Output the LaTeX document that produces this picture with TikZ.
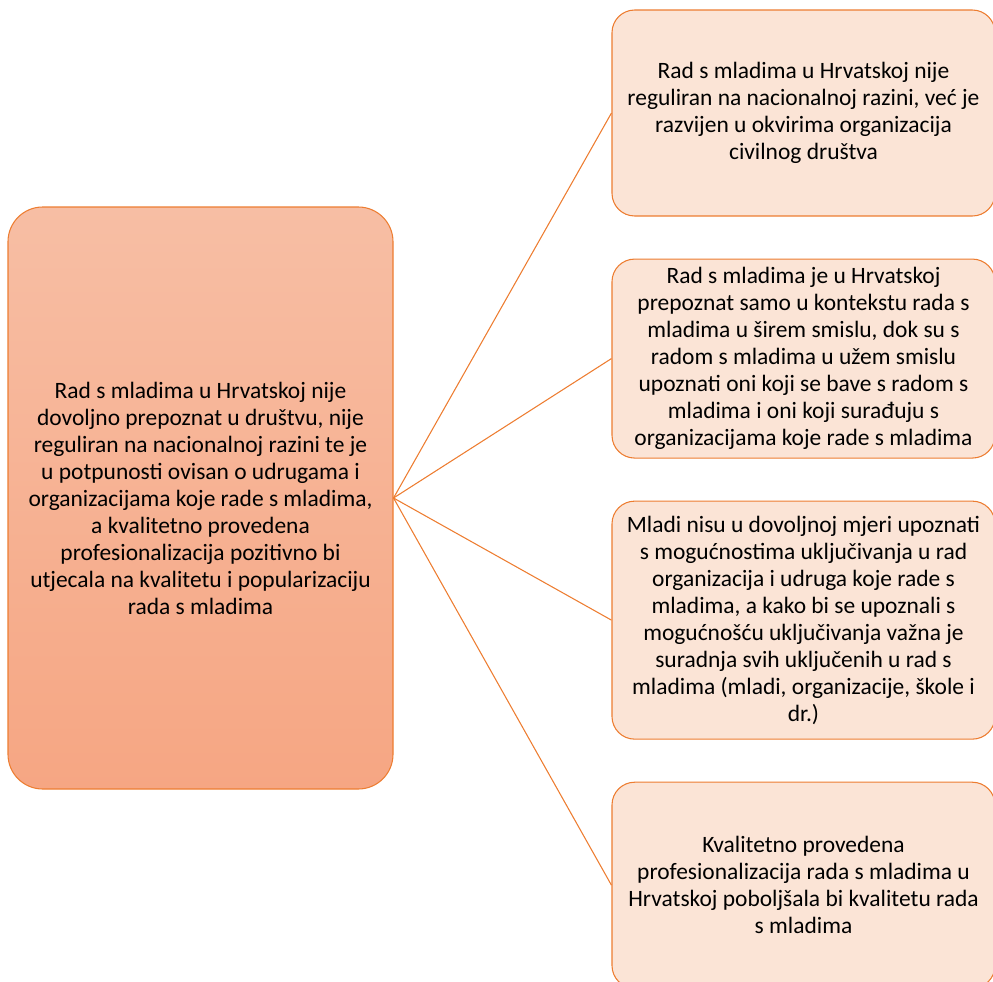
\documentclass[tikz,border=0pt]{standalone}
\usepackage{fontspec}
\setmainfont{Carlito}
\usetikzlibrary{positioning}

\definecolor{accent}{RGB}{237,125,49}
\definecolor{hubtop}{RGB}{247,190,164}
\definecolor{hubbot}{RGB}{246,166,131}
\definecolor{leaffill}{RGB}{251,228,214}

\tikzset{
  hub/.style={draw=accent, line width=0.8pt, rounded corners=26pt,
    top color=hubtop, bottom color=hubbot, align=center, inner sep=4pt,
    minimum width=288.75pt, minimum height=436.5pt},
  leaf/.style={draw=accent, line width=0.8pt, rounded corners=17pt,
    fill=leaffill, align=center, inner sep=4pt, minimum width=287.25pt},
  link/.style={draw=accent, line width=0.8pt},
}

\begin{document}
\begin{tikzpicture}[x=0.75pt, y=-0.75pt,
  every node/.style={font=\fontsize{17.6}{20.25}\selectfont}]
  \useasboundingbox (0,0) rectangle (993,982);

  \node [hub] (H) at (200.5,498) {Rad s mladima u Hrvatskoj nije\\
    dovoljno prepoznat u društvu, nije\\
    reguliran na nacionalnoj razini te je\\
    u potpunosti ovisan o udrugama i\\
    organizacijama koje rade s mladima,\\
    a kvalitetno provedena\\
    profesionalizacija pozitivno bi\\
    utjecala na kvalitetu i popularizaciju\\
    rada s mladima};

  \node [leaf, minimum height=154.5pt] (R1) at (803.5,113) {Rad s mladima u Hrvatskoj nije\\
    reguliran na nacionalnoj razini, već je\\
    razvijen u okvirima organizacija\\
    civilnog društva};
  \node [leaf, minimum height=149.25pt, below=31.5pt of R1] (R2) {Rad s mladima je u Hrvatskoj\\
    prepoznat samo u kontekstu rada s\\
    mladima u širem smislu, dok su s\\
    radom s mladima u užem smislu\\
    upoznati oni koji se bave s radom s\\
    mladima i oni koji surađuju s\\
    organizacijama koje rade s mladima};
  \node [leaf, minimum height=178.5pt, below=31.5pt of R2] (R3) {Mladi nisu u dovoljnoj mjeri upoznati\\
    s mogućnostima uključivanja u rad\\
    organizacija i udruga koje rade s\\
    mladima, a kako bi se upoznali s\\
    mogućnošću uključivanja važna je\\
    suradnja svih uključenih u rad s\\
    mladima (mladi, organizacije, škole i\\
    dr.)};
  \node [leaf, minimum height=154.5pt, below=31.5pt of R3] (R4) {Kvalitetno provedena\\
    profesionalizacija rada s mladima u\\
    Hrvatskoj poboljšala bi kvalitetu rada\\
    s mladima};

  \foreach \leafname in {R1,R2,R3,R4}
    \draw [link] (H.east) -- (\leafname.west);
\end{tikzpicture}
\end{document}
